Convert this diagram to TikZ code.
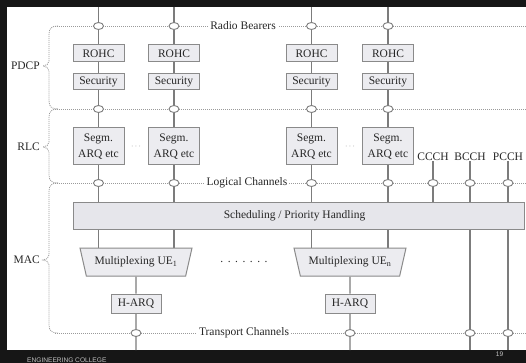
\documentclass[tikz,border=0pt]{standalone}
\usepackage{fontspec}
\setmainfont{Liberation Serif}
\newfontfamily\footfont{Liberation Sans}
\usetikzlibrary{shapes.geometric}
\pgfdeclarelayer{backdrop}
\pgfdeclarelayer{background}
\pgfsetlayers{backdrop,background,main}
\definecolor{slidebg}{HTML}{161616}
\definecolor{wirecol}{HTML}{7C7C7C}
\definecolor{dotcol}{HTML}{9A9A9A}
\definecolor{boxcol}{HTML}{8A8A8A}
\definecolor{boxfill}{HTML}{ECECF0}
\definecolor{schedfill}{HTML}{E6E6EB}
\definecolor{txt}{HTML}{262626}
\definecolor{foottxt}{HTML}{C4C4C4}
\newcommand{\lblfont}{\fontsize{11.5}{15.5}\selectfont}
% dotted curly brace joining two channel lines, tip at ym
\newcommand{\layerbrace}[3]{%
  \draw[dotline] (58,#1) .. controls (52,#1) and (49,#1+2) .. (49,#1+8)
    -- (49,#2-5) .. controls (49,#2-2) and (46,#2) .. (43,#2)
    .. controls (46,#2) and (49,#2+2) .. (49,#2+5)
    -- (49,#3-8) .. controls (49,#3-2) and (52,#3) .. (58,#3);}
\begin{document}
\begin{tikzpicture}[x=1pt,y=-1pt,
  wire/.style={draw=wirecol, line width=1.1pt},
  dotline/.style={draw=dotcol, line width=0.8pt, dash pattern=on 1pt off 1pt},
  junc/.style={ellipse, draw=wirecol, fill=white, line width=0.9pt,
    minimum width=10pt, minimum height=7pt, inner sep=0pt},
  blk/.style={draw=boxcol, fill=boxfill, line width=1pt, inner sep=1pt,
    text=txt, font=\lblfont, align=center},
  rohcbox/.style={blk, minimum width=51pt, minimum height=17pt},
  secbox/.style={blk, minimum width=51pt, minimum height=16pt},
  segbox/.style={blk, minimum width=51pt, minimum height=37pt},
  harqbox/.style={blk, minimum width=50pt, minimum height=19pt},
  muxbox/.style={blk, trapezium, shape border rotate=180,
    trapezium left angle=63, trapezium right angle=63,
    trapezium stretches body, minimum width=112pt, minimum height=28pt},
  chlabel/.style={fill=white, inner sep=2pt, text=txt, font=\lblfont},
  layerlabel/.style={anchor=east, inner sep=0pt, text=txt, font=\lblfont},
  plain/.style={inner sep=0pt, text=txt, font=\lblfont}]

\useasboundingbox (0,0) rectangle (526,363);
\begin{pgfonlayer}{backdrop}
  \fill[slidebg] (0,0) rectangle (526,363);
  \fill[white] (7,7) rectangle (526,350);
\end{pgfonlayer}

% footer of the slide
\node[anchor=west, inner sep=0pt, text=foottxt, font=\footfont\fontsize{6.6}{7}\selectfont]
  (college) at (27,360) {ENGINEERING COLLEGE};
\node[inner sep=0pt, text=foottxt, font=\footfont\fontsize{6.6}{7}\selectfont]
  (pageno) at (499.5,354.5) {19};

% per-bearer blocks
\foreach \i/\x in {1/98.5, 2/174, 3/311.5, 4/388} {
  \coordinate (top\i) at (\x,7);
  \node[junc] (rb\i) at (\x,26) {};
  \node[rohcbox] (rohc\i) at (\x,53.5) {ROHC};
  \node[secbox] (sec\i) at (\x,81.5) {Security};
  \node[junc] (pr\i) at (\x,109) {};
  \node[segbox] (seg\i) at (\x,146.5) {Segm.\\ARQ etc};
  \node[junc] (lc\i) at (\x,183) {};
}
\node[plain, text=wirecol, font=\fontsize{8}{8}\selectfont] (dotsA) at (136,147) {$\cdots$};
\node[plain, text=wirecol, font=\fontsize{8}{8}\selectfont] (dotsB) at (350,147) {$\cdots$};

% common channels
\foreach \c/\x in {ccch/433, bcch/470, pcch/508} {
  \node[junc] (lc\c) at (\x,183) {};
}
\node[plain] (ccch) at (433,157) {CCCH};
\node[plain] (bcch) at (470,157) {BCCH};
\node[plain] (pcch) at (508,157) {PCCH};

% MAC
\node[blk, fill=schedfill, minimum width=451pt, minimum height=27pt] (sched) at (298.5,215.5)
  {\hspace*{-8pt}Scheduling / Priority Handling};
\node[muxbox] (mux1) at (136,262) {Multiplexing UE\textsubscript{1}};
\node[muxbox] (mux2) at (350,262) {Multiplexing UE\textsubscript{n}};
\node[plain] (dotsC) at (244,262) {.\kern4.5pt.\kern4.5pt.\kern4.5pt.\kern4.5pt.\kern4.5pt.\kern4.5pt.};
\node[harqbox] (harq1) at (136,303.5) {H-ARQ};
\node[harqbox] (harq2) at (350,303.5) {H-ARQ};
\node[junc] (tc1) at (136,333) {};
\node[junc] (tc2) at (350,333) {};
\node[junc] (tcb) at (470,333) {};
\node[junc] (tcp) at (508,333) {};
\coordinate (bot1) at (136,350);
\coordinate (bot2) at (350,350);
\coordinate (botb) at (470,350);
\coordinate (botp) at (508,350);

% channel labels on the dotted lines
\node[chlabel] (rblab) at (243,26) {Radio Bearers};
\node[chlabel] (lclab) at (247,183) {Logical Channels};
\node[chlabel] (tclab) at (244,333) {Transport Channels};

% layer names
\node[layerlabel] (pdcp) at (40,66) {PDCP};
\node[layerlabel] (rlc) at (40,147) {RLC};
\node[layerlabel] (mac) at (40,260) {MAC};

\begin{pgfonlayer}{background}
  % dotted channel lines and layer braces
  \foreach \y in {26,109,183,333} {
    \coordinate (hl\y) at (55,\y);
    \coordinate (hr\y) at (526,\y);
    \draw[dotline] (hl\y) -- (hr\y);
  }
  \layerbrace{26}{66}{109}
  \layerbrace{109}{147}{183}
  \layerbrace{183}{260}{333}

  % bearer chains
  \foreach \i/\m in {1/mux1, 2/mux1, 3/mux2, 4/mux2} {
    \draw[wire] (top\i) -- (rb\i) -- (rohc\i) -- (sec\i) -- (pr\i) -- (seg\i) -- (lc\i)
      -- (lc\i |- sched.north);
    \draw[wire] (lc\i |- sched.south) -- (lc\i |- \m.center);
  }
  \draw[wire] (ccch) -- (lcccch) -- (lcccch |- sched.north);
  \draw[wire] (bcch) -- (lcbcch) -- (lcbcch |- sched.north);
  \draw[wire] (pcch) -- (lcpcch) -- (lcpcch |- sched.north);
  \draw[wire] (lcbcch |- sched.south) -- (tcb) -- (botb);
  \draw[wire] (lcpcch |- sched.south) -- (tcp) -- (botp);
  \draw[wire] (mux1) -- (harq1) -- (tc1) -- (bot1);
  \draw[wire] (mux2) -- (harq2) -- (tc2) -- (bot2);
\end{pgfonlayer}
\end{tikzpicture}
\end{document}
